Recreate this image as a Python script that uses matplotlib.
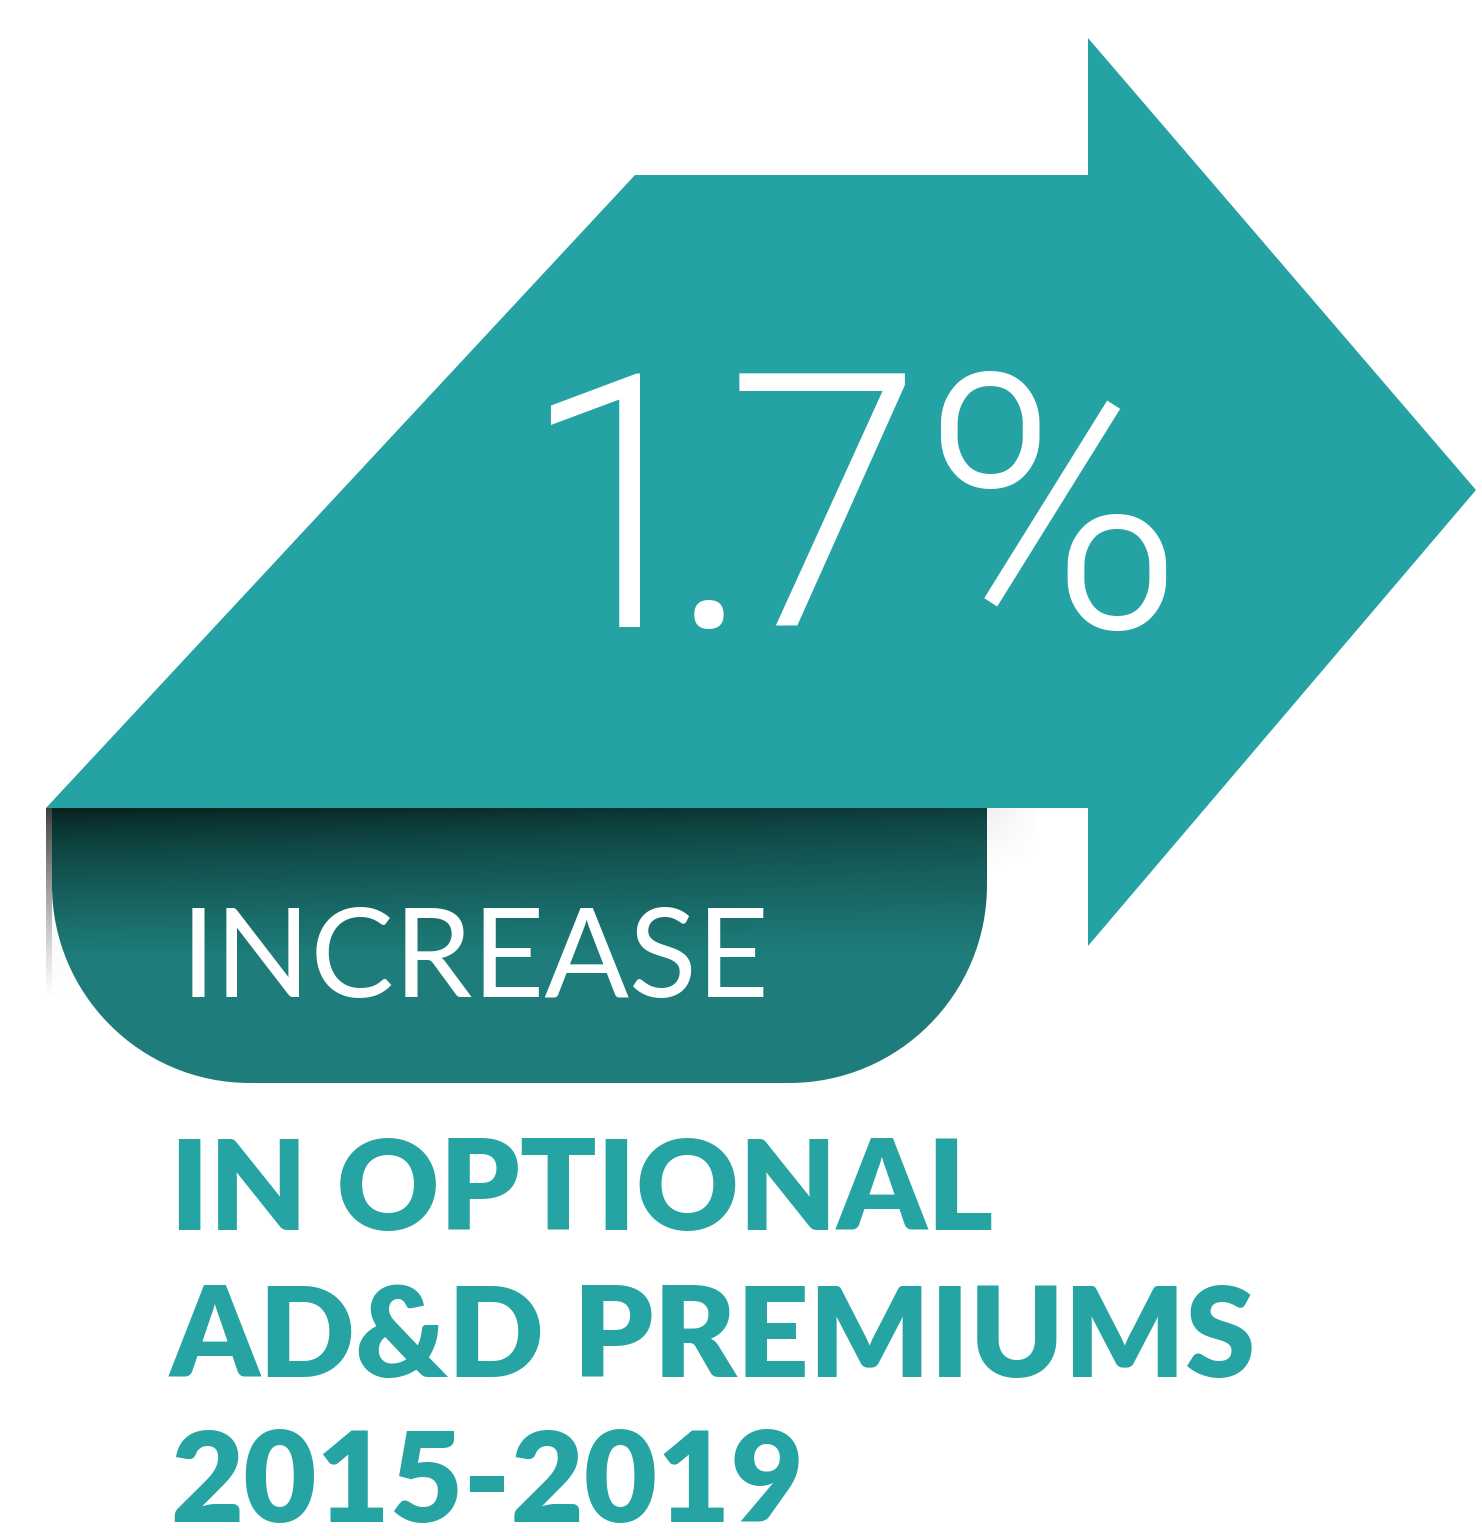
import matplotlib.pyplot as plt
import numpy as np
from matplotlib.patches import Polygon, PathPatch
from matplotlib.path import Path

# figures shown on the graphic
increase_pct = 1.7
headline = "INCREASE"
caption_lines = ["IN OPTIONAL", "AD&D PREMIUMS", "2015-2019"]

TEAL = "#25a2a4"
TEAL_TXT = "#26a3a3"
W, H = 1482, 1536

fig = plt.figure(figsize=(W / 100, H / 100), dpi=100)
ax = fig.add_axes([0, 0, 1, 1])
ax.set_xlim(0, W)
ax.set_ylim(H, 0)
ax.axis("off")

# big arrow
arrow = [(46, 808), (635, 175), (1088, 175), (1088, 38), (1476, 490),
         (1088, 946), (1088, 808)]
ax.add_patch(Polygon(arrow, closed=True, fc=TEAL, ec="none", zorder=1))

# folded tab with rounded bottom corners
L, R, T, B, r = 52, 987, 808, 1083, 198
k = 0.5523 * r
verts = [(L, T), (R, T), (R, B - r),
         (R, B - r + k), (R - r + k, B), (R - r, B),
         (L + r, B),
         (L + r - k, B), (L, B - r + k), (L, B - r),
         (L, T)]
codes = [Path.MOVETO, Path.LINETO, Path.LINETO,
         Path.CURVE4, Path.CURVE4, Path.CURVE4,
         Path.LINETO,
         Path.CURVE4, Path.CURVE4, Path.CURVE4,
         Path.CLOSEPOLY]
tab = PathPatch(Path(verts, codes), fc="none", ec="none", zorder=2)
ax.add_patch(tab)

yy, xx = np.mgrid[T:B:1.0, L:R:1.0]
t = np.clip((yy - T) / 150.0, 0, 1) ** 0.7
t = np.clip(t + 0.3 * (xx - L) / (R - L) * (1 - t), 0, 1)
dark = np.array([0.02, 0.12, 0.11])
base = np.array([0.118, 0.494, 0.482])
img = dark + (base - dark) * t[..., None]
im = ax.imshow(img, extent=(L, R, B, T), origin="upper", zorder=2,
               interpolation="bilinear")
im.set_clip_path(tab)

# faint underside of the fold, left of the curve
gy = np.linspace(0, 1, 200)[:, None]
gx = np.linspace(0, 1, 60)[None, :]
under = np.ones((200, 60, 4))
under[..., :3] = 0.55
under[..., 3] = 0.10 * (1 - gy) ** 0.8 * (1 - gx)
ax.imshow(under, extent=(46, 110, 1000, 808), origin="upper", zorder=1.5,
          interpolation="bilinear")

# shadow strip along the left fold
sy = np.linspace(0, 1, 200)[:, None]
shade = np.ones((200, 2, 4))
shade[..., :3] = 0.25
shade[..., 3] = (1 - sy) ** 1.3
ax.imshow(shade, extent=(46, 52, 1000, 808), origin="upper", zorder=2,
          interpolation="bilinear")

# soft shadow to the right of the tab
rx = np.linspace(0, 1, 40)[None, :]
ry = np.linspace(0, 1, 60)[:, None]
rs = np.ones((60, 40, 4))
rs[..., :3] = 0.5
rs[..., 3] = 0.12 * (1 - rx) * (1 - ry)
ax.imshow(rs, extent=(987, 1040, 868, 808), origin="upper", zorder=2,
          interpolation="bilinear")

ax.set_aspect("auto")

# big number, set glyph by glyph for the tight tracking
big = f"{increase_pct}%"
glyph_x = [519, 669, 726, 922]
for ch, gx0 in zip(big, glyph_x):
    ax.text(gx0, 627, ch, color="white", fontsize=255, family="Roboto",
            fontweight=300, ha="left", va="baseline", zorder=3)

ax.text(181, 997, headline, color="white", fontsize=90, family="Lato",
        fontweight="normal", ha="left", va="baseline", zorder=3)

for y, line in zip([1230, 1377, 1522], caption_lines):
    ax.text(170, y, line, color=TEAL_TXT, fontsize=91, family="Lato",
            fontweight="heavy", ha="left", va="baseline", zorder=3)

fig.savefig("out.png", dpi=100, facecolor="white")
